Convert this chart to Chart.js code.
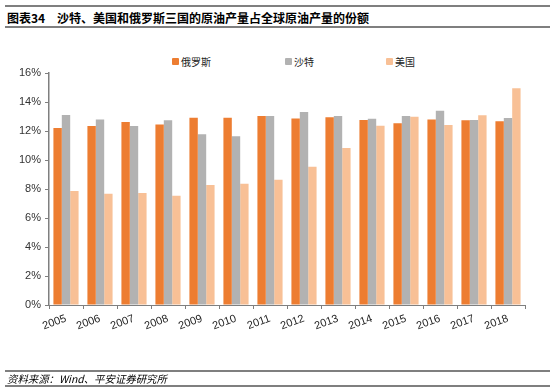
<!DOCTYPE html>
<html><head><meta charset="utf-8">
<script src="https://cdn.jsdelivr.net/npm/chart.js@4/dist/chart.umd.min.js"></script>
<style>
html,body{margin:0;padding:0;background:#fff;}
#wrap{position:relative;width:550px;height:390px;overflow:hidden;}
#c{position:absolute;left:0;top:0;}
.hl{position:absolute;left:5px;right:0;height:2px;background:#7f7f7f;}
#title{position:absolute;left:7px;top:9px;font:bold 12px "Noto Sans CJK SC";color:#000;white-space:nowrap;}
#title span{display:inline-block;width:50px;}
#foot{position:absolute;left:7px;top:371px;font:italic 10.4px "Noto Sans CJK SC";color:#000;white-space:nowrap;}
#legend{position:absolute;top:55px;left:0;font:10px "Noto Sans CJK SC";color:#222;}
.li{position:absolute;white-space:nowrap;line-height:14px;}
.li i{display:inline-block;width:7px;height:7px;border-radius:1px;margin-right:2px;vertical-align:1px;}
</style></head>
<body><div id="wrap">
<div class="hl" style="top:5px"></div>
<div id="title"><span>图表34</span>沙特、美国和俄罗斯三国的原油产量占全球原油产量的份额</div>
<div class="hl" style="top:26px"></div>
<div id="legend"></div>
<canvas id="c" width="550" height="390"></canvas>
<div class="hl" style="top:370px"></div>
<div id="foot">资料来源：Wind、平安证券研究所</div>
<div class="hl" style="top:385px"></div>
</div>
<script>
const categories = ['2005','2006','2007','2008','2009','2010','2011','2012','2013','2014','2015','2016','2017','2018'];
const seriesNames = ['俄罗斯','沙特','美国'];
const russia = [12.2,12.35,12.62,12.45,12.92,12.92,13.03,12.87,12.94,12.76,12.53,12.8,12.74,12.67];
const saudi  = [13.1,12.8,12.35,12.74,11.77,11.63,13.03,13.31,13.03,12.85,13.03,13.4,12.76,12.9];
const usa    = [7.87,7.68,7.72,7.54,8.28,8.37,8.64,9.54,10.83,12.37,12.99,12.41,13.08,14.94];
const yTicks = [0,2,4,6,8,10,12,14,16];
const colors = ['#ED7D31','#B2B2B2','#F8C096'];
const legendX = [172,285,386];

const datasets = [russia, saudi, usa].map((d,i)=>({
  label: seriesNames[i], data: d, backgroundColor: colors[i],
  borderWidth: 0, categoryPercentage: 0.74, barPercentage: 1.0
}));

const lg = document.getElementById('legend');
datasets.forEach((ds,i)=>{
  const el = document.createElement('div');
  el.className='li'; el.style.left = legendX[i]+'px';
  el.innerHTML = '<i style="background:'+ds.backgroundColor+'"></i>'+ds.label;
  lg.appendChild(el);
});

new Chart(document.getElementById('c'), {
  type: 'bar',
  data: { labels: categories, datasets },
  options: {
    responsive: false, animation: false,
    layout: { padding: { top: 73, right: 25, bottom: 0, left: 0 } },
    plugins: { legend: { display: false }, title: { display: false }, tooltip: { enabled: false } },
    scales: {
      x: {
        grid: { display: true, drawOnChartArea: false, offset: true, tickLength: 4, color: '#7f7f7f', tickColor:'#7f7f7f' },
        border: { color: '#7f7f7f', width: 1 },
        ticks: { color: '#222', font: { family: 'Liberation Sans', size: 11 }, minRotation: 20, maxRotation: 20, padding: 3 },
        afterFit: s => { s.height = 85; }
      },
      y: {
        min: 0, max: 16,
        afterBuildTicks: s => { s.ticks = yTicks.map(v=>({value:v})); },
        grid: { display: true, drawOnChartArea: false, tickLength: 4, color: '#7f7f7f', tickColor:'#7f7f7f' },
        border: { color: '#7f7f7f', width: 1.5 },
        ticks: { color: '#333', font: { family: 'Liberation Sans', size: 11 }, padding: 4, callback: v => v + '%' },
        afterFit: s => { s.width = 49; }
      }
    }
  }
});
</script>
</body></html>
